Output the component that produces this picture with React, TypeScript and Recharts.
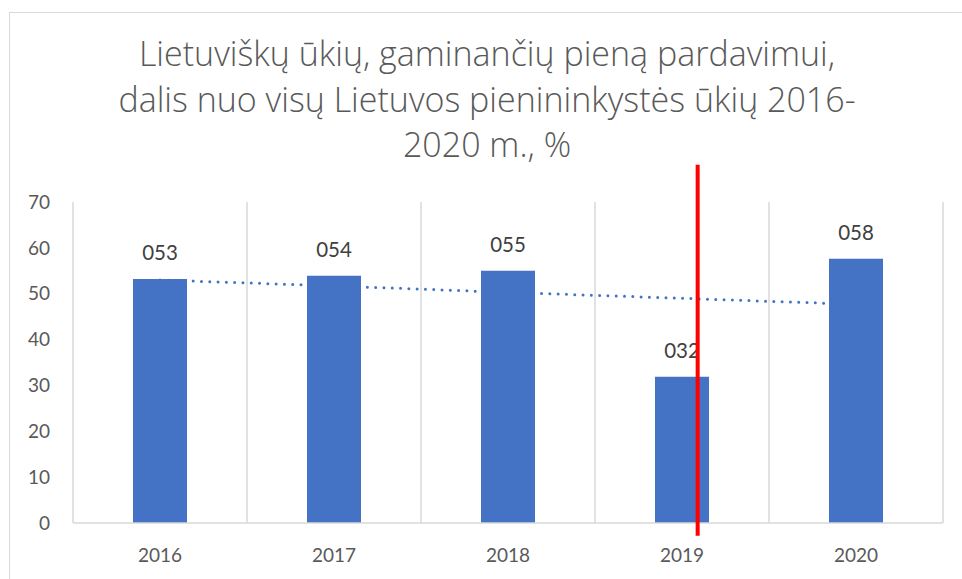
import React from 'react'
import { ComposedChart, Bar, Line, XAxis, YAxis, CartesianGrid, LabelList, ReferenceLine } from 'recharts'

const years = ['2016', '2017', '2018', '2019', '2020']
const shares = [53.2, 53.9, 55.0, 31.9, 57.6]
const trend = [53.0, 51.7, 50.3, 49.0, 47.7]
const yTicks = [0, 10, 20, 30, 40, 50, 60, 70]
const bandEdges = [0, 1, 2, 3, 4, 5]
const titleLines = ['Lietuviškų ūkių, gaminančių pieną pardavimui,', 'dalis nuo visų Lietuvos pienininkystės ūkių 2016-', '2020 m., %']

const data = years.map((year, i) => ({ year, share: shares[i], trend: trend[i] }))

const font = 'Lato, "Open Sans", sans-serif'
const fmt = (v: any) => String(Math.round(Number(v))).padStart(3, '0')

export default function App() {
  return (
    <div style={{ position: 'absolute', left: 0, top: 0, width: 962, height: 579, overflow: 'hidden', background: '#fff', fontFamily: font }}>
      <div style={{ position: 'absolute', left: 9, top: 12, width: 1000, height: 700, border: '1px solid #d9d9d9' }} />
      <div
        style={{
          position: 'absolute', left: 0, top: 31, width: 974, textAlign: 'center',
          fontFamily: '"Open Sans", Lato, sans-serif', fontSize: 34, fontWeight: 300, lineHeight: '45.5px', color: '#595959',
        }}
      >
        {titleLines.map((l) => <div key={l}>{l}</div>)}
      </div>
      <div style={{ position: 'absolute', left: 0, top: 0 }}>
        <ComposedChart width={962} height={579} data={data} margin={{ top: 202, right: 19, bottom: 0, left: 0 }}>
          <XAxis
            dataKey="year"
            height={56}
            tickSize={0}
            tickMargin={26}
            axisLine={{ stroke: '#d9d9d9', strokeWidth: 1.5 }}
            tickLine={false}
            tick={{ fill: '#595959', fontSize: 19, fontFamily: font }}
          />
          {/* hidden linear axis: band edges for the grid and the red marker */}
          <XAxis xAxisId="num" type="number" dataKey={() => 0} domain={[0, 5]} ticks={bandEdges} allowDataOverflow hide />
          <YAxis
            width={73}
            domain={[0, 70]}
            ticks={yTicks}
            tickSize={0}
            tickMargin={23}
            axisLine={false}
            tickLine={false}
            tick={{ fill: '#595959', fontSize: 19, fontFamily: font }}
          />
          <CartesianGrid xAxisId="num" horizontal={false} stroke="#d9d9d9" strokeWidth={1.5} />
          <Line
            dataKey="trend"
            stroke="#4472C4"
            strokeWidth={3}
            strokeDasharray="0 8.3"
            strokeLinecap="round"
            dot={false}
            activeDot={false}
            isAnimationActive={false}
            zIndex={250}
          />
          <Bar dataKey="share" fill="#4472C4" barSize={54} isAnimationActive={false}>
            <LabelList dataKey="share" position="top" offset={19} formatter={fmt} fill="#404040" fontSize={20.5} fontFamily={font} />
          </Bar>
          <ReferenceLine
            xAxisId="num"
            segment={[{ x: 3.59, y: -2.8 }, { x: 3.59, y: 78.1 }]}
            stroke="#ff0000"
            strokeWidth={4}
            ifOverflow="visible"
            zIndex={2500}
          />
        </ComposedChart>
      </div>
    </div>
  )
}
